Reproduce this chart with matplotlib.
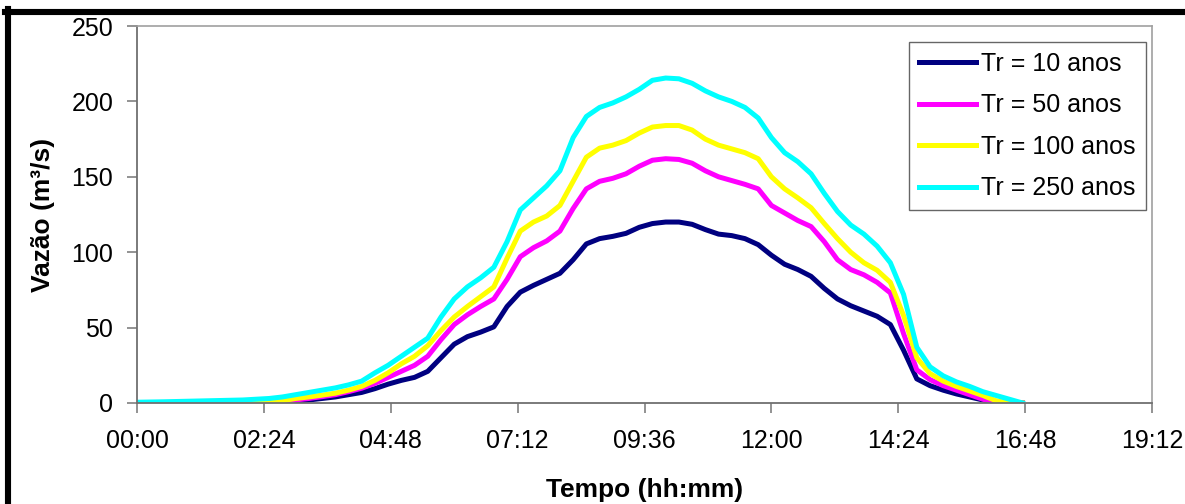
import numpy as np
import matplotlib
matplotlib.use('Agg')
import matplotlib.pyplot as plt
from matplotlib.lines import Line2D
from matplotlib.ticker import FuncFormatter

plt.rcParams['font.family'] = ['Liberation Sans', 'DejaVu Sans']

# tempo em horas
horas = [0, 0.5, 1.0, 1.5, 2.0, 2.5, 2.75, 3.0, 3.25, 3.5, 3.75, 4.0, 4.25, 4.5, 4.75,
         5.0, 5.25, 5.5, 5.75, 6.0, 6.25, 6.5, 6.75, 7.0, 7.25, 7.5, 7.75, 8.0, 8.25,
         8.5, 8.75, 9.0, 9.25, 9.5, 9.75, 10.0, 10.25, 10.5, 10.75, 11.0, 11.25, 11.5,
         11.75, 12.0, 12.25, 12.5, 12.75, 13.0, 13.25, 13.5, 13.75, 14.0, 14.25, 14.5,
         14.75, 15.0, 15.25, 15.5, 15.75, 16.0, 16.25, 16.5, 16.75]

tr10 = [0, 0, 0, 0, 0, 0, 0, 1, 2, 3, 4, 5.5, 7, 9.5, 12.5,
        15, 17, 21, 30, 39, 44, 47, 50.5, 64, 73.5, 78, 82, 86, 95,
        105.5, 109, 110.5, 112.5, 116.5, 119, 120, 120, 118.5, 115, 112, 111, 109,
        105, 98, 92, 88.5, 84, 76, 69, 64.5, 61, 57.5, 52, 35,
        16, 11.5, 8.5, 6, 4, 2, 0.3, 0, 0]

tr50 = [0, 0, 0, 0, 0, 0, 0.5, 2, 3, 4.2, 5.5, 7.5, 9.8, 13, 17,
        21, 25, 31, 42, 52, 58.5, 64, 69, 82, 97, 103, 107.5, 114, 129,
        142, 147, 149, 152, 157, 161, 162, 161.5, 159, 154, 150, 147.5, 145,
        142, 131, 126, 121, 117, 107, 95, 88.5, 85, 80, 73, 46,
        22, 15.5, 11.5, 8.5, 5.5, 2.5, 0.3, 0, 0]

tr100 = [0, 0, 0, 0, 0, 0, 1.5, 3, 4, 5.2, 6.5, 8.5, 11, 15, 20,
         26, 31, 38, 48, 57, 64, 70.5, 77, 96, 114, 120, 124, 131, 147,
         163, 169, 171, 174, 179, 183, 184, 184, 181, 175, 171, 168.5, 166,
         162, 150, 142, 136, 129.5, 119, 109, 100, 93, 88, 80, 58,
         30, 19.5, 14.5, 11, 8, 5, 1.5, 0, 0]

tr250 = [0.5, 0.8, 1.2, 1.6, 2.0, 3.0, 4.0, 5.5, 7, 8.5, 10, 12, 14.5, 20, 25,
         31, 37, 43, 57, 69, 77, 83, 90, 107, 128, 136, 144, 154, 176,
         190, 196, 199, 203, 208, 214, 215.5, 215, 212, 207, 203, 200, 196,
         189, 176, 166, 160, 152, 139, 127, 118, 112, 104, 93, 72,
         37, 24, 18, 14, 11, 7.5, 5, 2.5, 0]

series = [('Tr = 10 anos', tr10, '#000080'),
          ('Tr = 50 anos', tr50, '#ff00ff'),
          ('Tr = 100 anos', tr100, '#ffff00'),
          ('Tr = 250 anos', tr250, '#00ffff')]


def hhmm(x, pos):
    minutos = int(round(x * 60))
    return f'{minutos // 60:02d}:{minutos % 60:02d}'


fig = plt.figure(figsize=(11.85, 5.04), dpi=100)
ax = fig.add_axes([0.1156, 0.2004, 0.9722 - 0.1156, 0.9484 - 0.2004])

for nome, q, cor in series:
    ax.plot(horas, q, color=cor, lw=3.6, label=nome, solid_joinstyle='round')

ax.set_xlim(0, 19.2)
ax.set_ylim(0, 250)
ax.set_xticks(np.arange(0, 19.21, 2.4))
ax.set_yticks(np.arange(0, 251, 50))
ax.xaxis.set_major_formatter(FuncFormatter(hhmm))
ax.tick_params(axis='both', direction='out', length=7, width=1.2, color='#808080',
               labelsize=18, colors='black')
ax.tick_params(axis='x', pad=12)
ax.tick_params(axis='y', pad=10)
for lado in ['left', 'bottom']:
    ax.spines[lado].set_color('#707070')
    ax.spines[lado].set_linewidth(1.3)
for lado in ['top', 'right']:
    ax.spines[lado].set_color('#a0a0a0')
    ax.spines[lado].set_linewidth(1.2)

ax.set_xlabel('Tempo (hh:mm)', fontsize=19, fontweight='bold', labelpad=18)
ax.set_ylabel('Vazão (m³/s)', fontsize=19, fontweight='bold', labelpad=12)

leg = ax.legend(loc='upper right', bbox_to_anchor=(0.994, 0.958), borderaxespad=0,
                fontsize=18, frameon=True, fancybox=False, handlelength=2.3,
                handletextpad=0.2, labelspacing=0.7, borderpad=0.4)
leg.get_frame().set_edgecolor('#404040')
leg.get_frame().set_linewidth(1.0)
for h in leg.get_lines():
    h.set_linewidth(3.6)

# moldura preta
fig.add_artist(Line2D([8 / 1185, 8 / 1185], [0, 1 - 9 / 504], color='black', lw=4.4,
                      transform=fig.transFigure, solid_capstyle='projecting'))
fig.add_artist(Line2D([5 / 1185, 1], [1 - 12 / 504, 1 - 12 / 504], color='black', lw=4.4,
                      transform=fig.transFigure))

fig.savefig('out.png', dpi=100)
